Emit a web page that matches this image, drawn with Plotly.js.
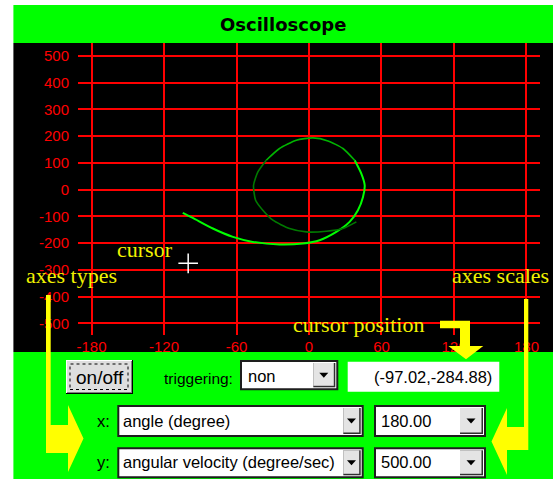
<!DOCTYPE html>
<html><head><meta charset="utf-8">
<script src="https://cdn.plot.ly/plotly-3.0.1.min.js"></script>
<style>html,body{margin:0;padding:0;background:#fff;}#chart{width:553px;height:479px;}</style>
</head><body><div id="chart"></div>
<script>
// ---------- data ----------
const chartTitle = 'Oscilloscope';
const xTickVals = [-180, -120, -60, 0, 60, 120, 180];
const xTickText = ['-180', '-120', '-60', '0', '60', '120', '180'];
const yTickVals = [500, 400, 300, 200, 100, 0, -100, -200, -300, -400, -500];
const yTickText = ['500', '400', '300', '200', '100', '0', '-100', '-200', '-300', '-400', '-500'];
// phase-plane trace: angle (deg) vs angular velocity (deg/s), newest first
const curveX = [-104.5, -96.2, -79.6, -63.0, -46.5, -24.4, -5.1, 8.8, 22.6, 33.6, 40.5, 44.7, 46.1, 43.3, 37.8,
                28.1, 15.7, 3.2, -10.5, -24.4, -35.4, -42.3, -45.9, -44.2, -38.2, -29.9, -16.1, -2.2, 14.3, 28.1, 39.2];
const curveY = [-87.5, -106.2, -145.8, -177.2, -195.9, -205.6, -201.9, -189.5, -158.5, -121.1, -77.4, -27.7, 16.1, 59.8, 109.5,
                153.3, 181.7, 192.9, 184.3, 153.3, 109.5, 65.8, 16.1, -40.0, -77.4, -114.8, -145.8, -158.5, -155.9, -145.8, -121.1];
const segBreaks = [14, 20];           // where the trace fades
const cursorX = [-100];
const cursorY = [-276];
const cursorReadout = '(-97.02,-284.88)';
const triggerLabel = 'triggering:';
const triggerMode = 'non';
const buttonLabel = 'on/off';
const xQuantity = 'angle (degree)';
const yQuantity = 'angular velocity (degree/sec)';
const xScale = '180.00';
const yScale = '500.00';
const calloutCursor = 'cursor';
const calloutTypes = 'axes types';
const calloutScales = 'axes scales';
const calloutPosition = 'cursor position';

// ---------- geometry helpers (pixel -> paper) ----------
const W = 553, H = 479, L = 78, R = 540, T = 43, B = 335;
const X = p => (p - L) / (R - L);
const Y = p => (B - p) / (B - T);
function rect(x0, y0, x1, y1, fill, extra) {
  return Object.assign({type: 'rect', xref: 'paper', yref: 'paper',
    x0: X(x0), x1: X(x1), y0: Y(y1), y1: Y(y0),
    fillcolor: fill, line: {width: 0}, layer: 'above'}, extra || {});
}
function poly(pts, fill, layer) {
  return {type: 'path', xref: 'paper', yref: 'paper', layer: layer || 'above',
    path: 'M' + pts.map(p => X(p[0]) + ',' + Y(p[1])).join('L') + 'Z',
    fillcolor: fill, line: {width: 0}};
}
function ann(text, px, py, font, xanchor) {
  return {text: text, xref: 'paper', yref: 'paper', x: X(px), y: Y(py),
    xanchor: xanchor || 'center', yanchor: 'middle', showarrow: false, font: font, borderpad: 0};
}
function dropdown(x0, y0, x1, y1, bx0) {
  const s = [];
  s.push(rect(x0, y0, x1, y1, '#ffffff', {line: {color: '#1e1e1e', width: 2}}));
  s.push(rect(bx0, y0 + 2, x1 - 2, y1 - 2, '#303030'));
  s.push(rect(bx0, y0 + 2, x1 - 3.5, y1 - 3.5, '#e4e4e4'));
  const cx = (bx0 + x1 - 3) / 2, cy = (y0 + y1) / 2;
  s.push(poly([[cx - 4.5, cy - 2.5], [cx + 4.5, cy - 2.5], [cx, cy + 2.5]], '#000000'));
  return s;
}

const uiFont = 'Liberation Sans, Arial, sans-serif';
const calloutFont = {family: 'Liberation Serif, Times New Roman, serif', size: 22, color: '#f2f200'};
const ctlFont = {family: uiFont, size: 16.5, color: '#000000'};

// ---------- traces ----------
const segColors = ['#00ff00', '#00b400', '#007a00'];
const segWidths = [2, 1.6, 1.6];
const bounds = [0].concat(segBreaks).concat([curveX.length - 1]);
const traces = [];
for (let i = 0; i < 3; i++) {
  traces.push({x: curveX.slice(bounds[i], bounds[i + 1] + 1), y: curveY.slice(bounds[i], bounds[i + 1] + 1),
    type: 'scatter', mode: 'lines', line: {color: segColors[i], width: segWidths[i], shape: 'spline', smoothing: 0.6},
    hoverinfo: 'skip', showlegend: false});
}
traces.push({x: cursorX, y: cursorY, type: 'scatter', mode: 'markers',
  marker: {symbol: 'cross-thin', size: 14, line: {color: '#ffffff', width: 1.5}}, hoverinfo: 'skip', showlegend: false});

// ---------- shapes ----------
const shapes = [
  rect(13.4, 5, 553, 43, '#00ff00', {layer: 'below'}),
  rect(13.4, 43, 553, 352, '#000000', {layer: 'below'}),
  rect(13.4, 352, 553, 479, '#00ff00', {layer: 'below'}),
  // yellow callout arrows
  poly([[46, 295], [50.7, 295], [50.7, 425], [68, 425], [68, 405], [83.5, 438.5], [68, 472], [68, 453], [46, 453]], '#ffff00'),
  poly([[528.3, 299], [524, 299], [524, 427], [507, 427], [507, 408], [491.5, 441.5], [507, 475], [507, 450], [528.3, 450]], '#ffff00'),
  poly([[440, 320.7], [470, 320.7], [470, 346], [483.3, 346], [466, 359.3], [448.3, 346], [460, 346], [460, 328.3], [440, 328.3]], '#ffff00'),
  // on/off button
  rect(66, 360, 133, 394, '#000000'),
  rect(66, 360, 132, 393, '#ffffff'),
  rect(67, 361, 132, 393, '#808080'),
  rect(67, 361, 131, 392, '#dedede'),
  rect(70, 364, 128, 389.5, 'rgba(0,0,0,0)', {line: {color: '#000000', width: 1, dash: 'dot'}}),
  // cursor position readout box
  rect(347.7, 361.7, 499.3, 391.7, '#ffffff')
].concat(
  dropdown(241, 361, 337.3, 389.3, 313.3),
  dropdown(118.3, 406, 362.7, 436, 343.3),
  dropdown(375, 406, 485, 436, 460),
  dropdown(118.3, 448.3, 362.7, 477.3, 343.3),
  dropdown(375, 448.3, 485, 477.3, 460)
);

// ---------- annotations ----------
const annotations = [
  ann('<b>' + chartTitle + '</b>', 282.5, 24, {family: 'DejaVu Sans, sans-serif', size: 18, color: '#000000'}),
  ann(calloutCursor, 145, 249.3, calloutFont),
  ann(calloutTypes, 71.5, 275, calloutFont),
  ann(calloutScales, 500, 275.3, calloutFont),
  ann(calloutPosition, 358.3, 324.6, calloutFont),
  ann(buttonLabel, 99.5, 377, {family: uiFont, size: 19, color: '#000000'}),
  ann(triggerLabel, 162.7, 378, {family: uiFont, size: 15.5, color: '#000000'}, 'left'),
  ann(triggerMode, 246.7, 376, ctlFont, 'left'),
  ann(cursorReadout, 493, 377, ctlFont, 'right'),
  ann('x:', 111, 421, ctlFont, 'right'),
  ann(xQuantity, 122.3, 421, ctlFont, 'left'),
  ann(xScale, 380, 421, ctlFont, 'left'),
  ann('y:', 111, 462, ctlFont, 'right'),
  ann(yQuantity, 122.3, 462, ctlFont, 'left'),
  ann(yScale, 380, 462, ctlFont, 'left')
];

const tickFont = {family: uiFont, size: 15, color: '#ff0000'};
const layout = {
  width: W, height: H, autosize: false,
  margin: {l: L, r: W - R, t: T, b: H - B, pad: 0},
  paper_bgcolor: '#ffffff', plot_bgcolor: '#000000',
  showlegend: false,
  xaxis: {range: [-191.2, 191.2], tickvals: xTickVals, ticktext: xTickText, tickfont: tickFont,
    showgrid: true, gridcolor: '#ff0000', gridwidth: 2, zeroline: false, showline: false, ticks: '', fixedrange: true,
    ticklabelstandoff: 1},
  yaxis: {range: [-543.9, 547.7], tickvals: yTickVals, ticktext: yTickText, tickfont: tickFont,
    showgrid: true, gridcolor: '#ff0000', gridwidth: 2, zeroline: false, showline: false, ticks: '', fixedrange: true,
    ticklabelstandoff: 8},
  shapes: shapes,
  annotations: annotations
};
Plotly.newPlot('chart', traces, layout, {displayModeBar: false, staticPlot: true});
</script>
</body></html>
